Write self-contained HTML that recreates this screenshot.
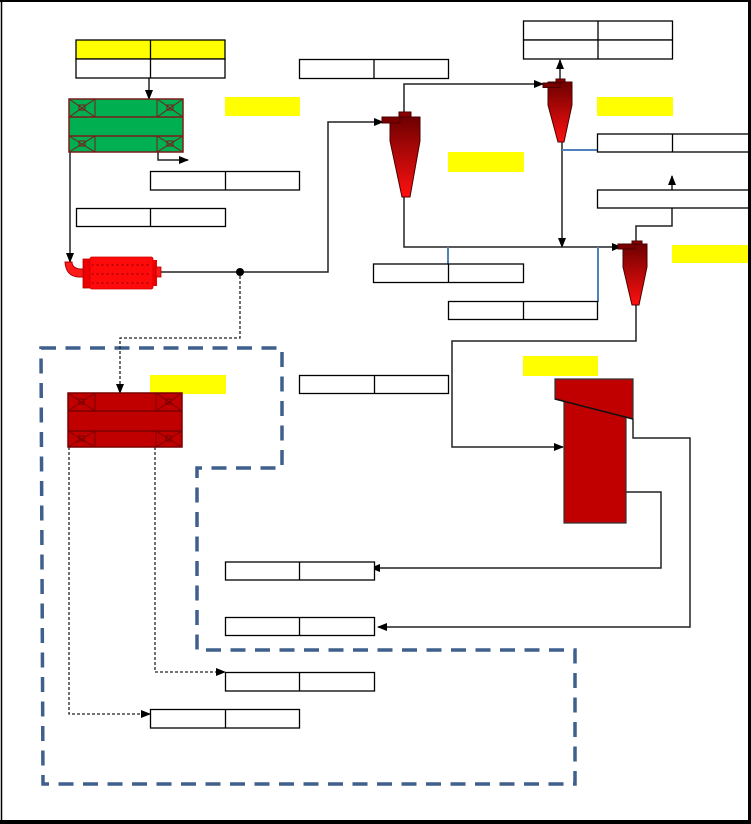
<!DOCTYPE html>
<html><head><meta charset="utf-8"><style>
html,body{margin:0;padding:0;background:#fff;}
svg{display:block;font-family:"Liberation Sans",sans-serif;}
</style></head><body>
<svg width="751" height="824" viewBox="0 0 751 824" xmlns="http://www.w3.org/2000/svg">
<defs>
<marker id="a" markerWidth="10" markerHeight="8" refX="9" refY="4" orient="auto" markerUnits="userSpaceOnUse"><path d="M0,0 L10,4 L0,8 z" fill="#000"/></marker>
<linearGradient id="cy" x1="0" y1="0" x2="0" y2="1"><stop offset="0" stop-color="#6e0000"/><stop offset="1" stop-color="#ff1010"/></linearGradient>
<pattern id="dots" x="0" y="0" width="5" height="9" patternUnits="userSpaceOnUse"><circle cx="2.5" cy="4" r="1" fill="#b00000"/></pattern>
</defs>
<rect x="0" y="0" width="751" height="824" fill="#fff"/>
<!-- frame -->
<line x1="0" y1="1" x2="751" y2="1" stroke="#000" stroke-width="2"/>
<line x1="1.5" y1="0" x2="1.5" y2="824" stroke="#000" stroke-width="1.5"/>
<line x1="749.5" y1="0" x2="749.5" y2="824" stroke="#000" stroke-width="3"/>
<line x1="0" y1="822" x2="751" y2="822" stroke="#000" stroke-width="4"/>

<!-- blue dashed region -->
<path d="M41,348 L282,348 L282,468 L197,468 L197,650 L575,650 L575,784 L43,784 Z" fill="none" stroke="#3f5f8c" stroke-width="3.5" stroke-dasharray="15,9.5"/>

<!-- connectors -->
<g fill="none" stroke="#222" stroke-width="1.5">
<polyline points="149,78 149,99" marker-end="url(#a)"/>
<polyline points="158,152 158,160 188,160" marker-end="url(#a)"/>
<polyline points="70,152 70,262" marker-end="url(#a)"/>
<polyline points="161,272 328,272 328,122 383,122" marker-end="url(#a)"/>
<polyline points="404,112 404,84 543,84" marker-end="url(#a)"/>
<polyline points="560,79 560,60" marker-end="url(#a)"/>
<polyline points="562,142 562,247" marker-end="url(#a)"/>
<polyline points="404,197 404,247 621,247" marker-end="url(#a)"/>
<polyline points="636,241 636,226 672,226 672,176" marker-end="url(#a)"/>
<polyline points="636,305 636,341 452,341 452,447 563,447" marker-end="url(#a)"/>
<polyline points="633,419 633,438 690,438 690,627 378,627" marker-end="url(#a)"/>
<polyline points="626,492 661,492 661,568 371,568" marker-end="url(#a)"/>
</g>
<g fill="none" stroke="#4f81bd" stroke-width="2">
<polyline points="562,150 597,150"/>
<polyline points="448,247 448,264"/>
<polyline points="598,247 598,302"/>
</g>
<g fill="none" stroke="#222" stroke-width="1.3" stroke-dasharray="3,2">
<polyline points="240,276 240,338 120,338 120,393" marker-end="url(#a)"/>
<polyline points="69,447 69,714 150,714" marker-end="url(#a)"/>
<polyline points="155,447 155,672 225,672" marker-end="url(#a)"/>
</g>
<circle cx="240" cy="272" r="4" fill="#000"/>

<!-- tables -->
<g fill="#fff" stroke="#000" stroke-width="1.3">
<rect x="76" y="40" width="149" height="19" fill="#ffff00"/>
<rect x="76" y="59" width="149" height="19"/>
<line x1="150.5" y1="40" x2="150.5" y2="78"/>
<rect x="299.5" y="59.5" width="149" height="19"/><line x1="374" y1="59.5" x2="374" y2="78.5"/>
<rect x="150.5" y="171.5" width="149" height="18.5"/><line x1="225.5" y1="171.5" x2="225.5" y2="190"/>
<rect x="76.5" y="208.5" width="149" height="18"/><line x1="150.5" y1="208.5" x2="150.5" y2="226.5"/>
<rect x="523.5" y="21" width="149" height="19"/><rect x="523.5" y="40" width="149" height="19"/><line x1="598" y1="21" x2="598" y2="59"/>
<rect x="597.5" y="134" width="160" height="18"/><line x1="672.5" y1="134" x2="672.5" y2="152"/>
<rect x="597.5" y="190" width="160" height="18"/>
<rect x="373.5" y="264" width="150" height="18.5"/><line x1="448.5" y1="264" x2="448.5" y2="282.5"/>
<rect x="448.5" y="301.5" width="149" height="18"/><line x1="523.5" y1="301.5" x2="523.5" y2="319.5"/>
<rect x="299.5" y="375.5" width="149" height="18"/><line x1="374.5" y1="375.5" x2="374.5" y2="393.5"/>
<rect x="225.5" y="562" width="149" height="18"/><line x1="299.5" y1="562" x2="299.5" y2="580"/>
<rect x="225.5" y="617.5" width="149" height="18"/><line x1="299.5" y1="617.5" x2="299.5" y2="635.5"/>
<rect x="225.5" y="672.5" width="149" height="18.5"/><line x1="299.5" y1="672.5" x2="299.5" y2="691"/>
<rect x="150.5" y="709.5" width="149" height="18.5"/><line x1="225.5" y1="709.5" x2="225.5" y2="728"/>
</g>
<line x1="749.5" y1="130" x2="749.5" y2="215" stroke="#000" stroke-width="3"/>

<!-- yellow labels -->
<g fill="#ffff00">
<rect x="225" y="97" width="75" height="19"/>
<rect x="597" y="97" width="76" height="19"/>
<rect x="448" y="152" width="76" height="20"/>
<rect x="672" y="245" width="76" height="18"/>
<rect x="523" y="356" width="75" height="20"/>
<rect x="150" y="375" width="76" height="19"/>
</g>

<!-- green box -->
<g stroke="#7a1a1a" stroke-width="1.5">
<rect x="69" y="99" width="114" height="53" fill="#00b050"/>
<line x1="69" y1="117" x2="183" y2="117"/>
<line x1="69" y1="136" x2="183" y2="136"/>
<g fill="none" stroke-width="1">
<rect x="69" y="99" width="26" height="18"/><path d="M69,99 L95,117 M95,99 L69,117"/><rect x="79" y="105" width="6" height="5"/>
<rect x="157" y="99" width="26" height="18"/><path d="M157,99 L183,117 M183,99 L157,117"/><rect x="167" y="105" width="6" height="5"/>
<rect x="69" y="136" width="26" height="16"/><path d="M69,136 L95,152 M95,136 L69,152"/><rect x="79" y="141" width="6" height="5"/>
<rect x="157" y="136" width="26" height="16"/><path d="M157,136 L183,152 M183,136 L157,152"/><rect x="167" y="141" width="6" height="5"/>
</g>
</g>

<!-- red box -->
<g stroke="#7a0000" stroke-width="1.5">
<rect x="68" y="393" width="114" height="54" fill="#c00000"/>
<line x1="68" y1="411" x2="182" y2="411"/>
<line x1="68" y1="431" x2="182" y2="431"/>
<g fill="none" stroke-width="1">
<rect x="68" y="393" width="27" height="18"/><path d="M68,393 L95,411 M95,393 L68,411"/><rect x="79" y="399" width="5" height="5"/>
<rect x="156" y="393" width="26" height="18"/><path d="M156,393 L182,411 M182,393 L156,411"/><rect x="166" y="399" width="5" height="5"/>
<rect x="68" y="431" width="27" height="16"/><path d="M68,431 L95,447 M95,431 L68,447"/><rect x="79" y="436" width="5" height="5"/>
<rect x="156" y="431" width="26" height="16"/><path d="M156,431 L182,447 M182,431 L156,447"/><rect x="166" y="436" width="5" height="5"/>
</g>
</g>

<!-- mill -->
<g>
<path d="M65,262 L72,262 Q72,268 80,269 L84,269 L84,277 L78,277 Q66,276 65,262 Z" fill="#ff1a1a" stroke="#b00000" stroke-width="1"/>
<rect x="83" y="259" width="8" height="29" fill="#ee0000" stroke="#b00000" stroke-width="0.8"/>
<rect x="90" y="257" width="63" height="32" rx="2" fill="#ff0a0a" stroke="#cc0000" stroke-width="0.8"/>
<rect x="92" y="259" width="58" height="27" fill="url(#dots)"/>
<rect x="153" y="260" width="4" height="26" fill="#ee0000"/>
<rect x="156" y="267" width="5" height="10" fill="#ff1a1a" stroke="#b00000" stroke-width="0.8"/>
</g>

<!-- cyclones -->
<g stroke="#4a0000" stroke-width="1">
<path d="M390,117 L420,117 L420,141 L410,197 L402,197 L390,141 Z" fill="url(#cy)"/>
<rect x="399" y="112" width="12" height="5" fill="#8b0000"/>
<rect x="382" y="117" width="18" height="6" fill="#7a0000"/>

<path d="M548,82 L572,82 L572,105 L564,142 L558,142 L548,105 Z" fill="url(#cy)"/>
<rect x="556" y="79" width="9" height="3" fill="#8b0000"/>
<rect x="543" y="83" width="17" height="4.5" fill="#7a0000"/>

<path d="M623,244 L647,244 L647,267 L639,305 L632,305 L623,267 Z" fill="url(#cy)"/>
<rect x="632" y="241" width="10" height="3" fill="#8b0000"/>
<rect x="618" y="244" width="17" height="5" fill="#7a0000"/>
</g>

<!-- classifier -->
<path d="M555,379 L633,379 L633,419 L626,417 L626,523 L564,523 L564,401 L555,399 Z" fill="#c00000" stroke="#333" stroke-width="1.2"/>
<line x1="555" y1="399" x2="633" y2="419" stroke="#111" stroke-width="1.5"/>
</svg>
</body></html>
